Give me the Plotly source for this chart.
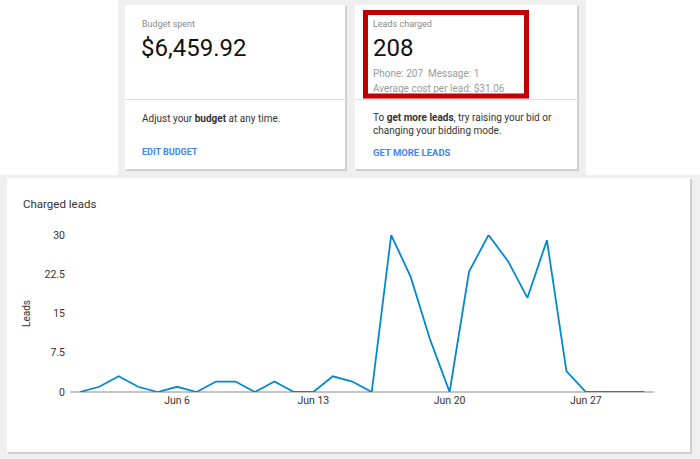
import plotly.graph_objects as go

W, H = 700, 459

# ---- data ----
days = list(range(1, 31))
dates = [f"2018-06-{d:02d}" for d in days]
leads = [0, 1, 3, 1, 0, 1, 0, 2, 2, 0, 2, 0, 0, 3, 2, 0,
         30, 22, 10, 0, 23, 30, 25, 18, 29, 4, 0, 0, 0, 0]
y_tickvals = [0, 7.5, 15, 22.5, 30]
y_ticktext = ["0", "7.5", "15", "22.5", "30"]
x_tickvals = ["2018-06-06", "2018-06-13", "2018-06-20", "2018-06-27"]
x_ticktext = ["Jun 6", "Jun 13", "Jun 20", "Jun 27"]

budget_label = "Budget spent"
budget_value = "$6,459.92"
leads_label = "Leads charged"
leads_value = "208"
leads_detail1 = "Phone: 207  Message: 1"
leads_detail2 = "Average cost per lead: $31.06"
budget_text = "Adjust your <b>budget</b> at any time."
budget_link = "EDIT BUDGET"
leads_text = "To <b>get more leads</b>, try raising your bid or<br>changing your bidding mode."
leads_link = "GET MORE LEADS"
chart_title = "Charged leads"
y_title = "Leads"

FONT = "Roboto, Arial, sans-serif"
GRAY_BG = "#efefef"
BLUE = "#0288d1"
LINK = "#4285f4"


def px(x):
    return x / W


def py(y):
    return 1 - y / H


shapes = []


def rect(x0, y0, x1, y1, fill, line_color=None, line_width=0, layer="below"):
    shapes.append(dict(type="rect", xref="paper", yref="paper",
                       x0=px(x0), x1=px(x1), y0=py(y1), y1=py(y0),
                       fillcolor=fill, layer=layer,
                       line=dict(color=line_color or fill, width=line_width)))


def hline(x0, x1, y, color, width=1):
    shapes.append(dict(type="line", xref="paper", yref="paper",
                       x0=px(x0), x1=px(x1), y0=py(y), y1=py(y),
                       layer="below", line=dict(color=color, width=width)))


# backgrounds
rect(118, 0, 586, 176, GRAY_BG)
rect(0, 175, 700, 459, GRAY_BG)

# cards with shadow
for (x0, y0, x1, y1) in [(125, 5, 345, 169), (355, 5, 577, 169), (7, 178, 690, 452)]:
    rect(x0 + 1, y0 + 1, x1 + 2, y1 + 2, "#cfcfcf")
    rect(x0, y0, x1, y1, "white")

# dividers
hline(125, 345, 99.5, "#e0e0e0")
hline(355, 577, 99.5, "#e0e0e0")

# red highlight box
rect(365.5, 12.5, 526.5, 96, "rgba(0,0,0,0)", "#c00000", 5, layer="above")

annotations = []


def text(x, y, s, size, color, xanchor="left", textangle=0, weight=None, align="left"):
    annotations.append(dict(x=px(x), y=py(y), xref="paper", yref="paper",
                            text=s, showarrow=False, xanchor=xanchor,
                            yanchor="middle", textangle=textangle, align=align,
                            borderpad=0,
                            font=dict(family=FONT, size=size, color=color,
                                      weight=weight)))


# card 1
text(141, 24, budget_label, 9, "#8a8a8a")
text(140, 48, budget_value, 24, "#111111")
text(141, 118, budget_text, 10, "#333333")
text(141, 152, budget_link, 9, LINK, weight="bold")

# card 2
text(372, 24, leads_label, 9, "#8a8a8a")
text(372, 48, leads_value, 24, "#111111")
text(372, 73, leads_detail1, 10, "#9a9a9a")
text(372, 88, leads_detail2, 10, "#9a9a9a")
text(372, 124.5, leads_text, 10, "#333333")
text(372, 152, leads_link, 9.5, LINK, weight="bold")

# chart titles
text(22, 204, chart_title, 11.5, "#333333")
text(26, 314, y_title, 10, "#333333", xanchor="center", textangle=-90)

fig = go.Figure()
fig.add_trace(go.Scatter(x=dates, y=leads, mode="lines",
                         line=dict(color=BLUE, width=1.8),
                         cliponaxis=False, hoverinfo="x+y"))

fig.update_layout(
    width=W, height=H,
    margin=dict(l=0, r=0, t=0, b=0, pad=0, autoexpand=False),
    paper_bgcolor="white",
    plot_bgcolor="rgba(0,0,0,0)",
    showlegend=False,
    shapes=shapes,
    annotations=annotations,
    font=dict(family=FONT, color="#333333", size=11),
    xaxis=dict(domain=[px(70), px(654)],
               range=["2018-05-31 12:00", "2018-06-30 12:00"],
               type="date", automargin=False,
               tickvals=x_tickvals, ticktext=x_ticktext,
               showgrid=False, zeroline=False,
               showline=False, ticks="",
               tickfont=dict(size=10.5, color="#333333")),
    yaxis=dict(domain=[py(392), py(235)],
               range=[0, 30], automargin=False,
               tickvals=y_tickvals, ticktext=y_ticktext,
               showgrid=False, zeroline=True, zerolinecolor="#c4c4c4",
               zerolinewidth=2, showline=False, ticks="",
               ticklabelstandoff=4,
               tickfont=dict(size=10.5, color="#333333")),
)

fig.write_html("out.html")
